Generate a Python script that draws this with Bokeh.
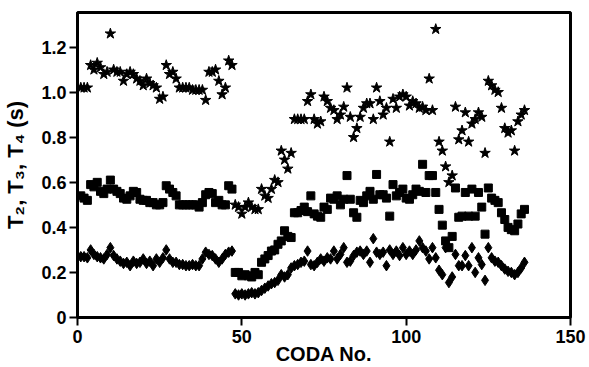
from bokeh.plotting import figure
from bokeh.models import Range1d, FixedTicker
from bokeh.embed import file_html
from bokeh.resources import INLINE

coda = list(range(1, 137))

t4_stars = [1.02, 1.02, 1.02, 1.12, 1.10, 1.13, 1.11, 1.08, 1.09, 1.26,
            1.10, 1.09, 1.09, 1.05, 1.08, 1.09, 1.08, 1.06, 1.05, 1.03,
            1.06, 1.04, 1.03, 1.02, 0.97, 0.98, 1.12, 1.08, 1.09, 1.06,
            1.02, 1.02, 1.02, 1.02, 1.01, 1.01, 1.01, 1.01, 0.965, 1.09,
            1.09, 1.10, 1.05, 0.99, 1.02, 1.14, 1.12, 0.50, 0.49, 0.46,
            0.49, 0.51, 0.49, 0.48, 0.48, 0.57, 0.54, 0.53, 0.57, 0.61,
            0.60, 0.74, 0.70, 0.66, 0.73, 0.88, 0.88, 0.88, 0.88, 0.96,
            0.99, 0.88, 0.86, 0.87, 0.98, 0.96, 0.93, 0.92, 0.88, 0.90,
            0.935, 1.02, 0.89, 0.80, 0.84, 0.89, 0.93, 0.95, 0.95, 0.88,
            1.02, 0.96, 0.90, 0.93, 0.78, 0.97, 0.93, 0.98, 0.99, 0.98,
            0.94, 0.96, 0.95, 0.93, 0.935, 0.92, 1.06, 0.92, 1.28, 0.78,
            0.74, 0.67, 0.60, 0.63, 0.935, 0.79, 0.83, 0.91, 0.78, 0.86,
            0.88, 0.91, 0.89, 0.73, 1.05, 1.03, 1.01, 1.00, 0.93, 0.84,
            0.82, 0.83, 0.74, 0.87, 0.90, 0.92]

t3_squares = [0.54, 0.53, 0.52, 0.59, 0.58, 0.60, 0.56, 0.55, 0.57, 0.61,
              0.57, 0.56, 0.55, 0.53, 0.525, 0.54, 0.56, 0.555, 0.525, 0.52,
              0.52, 0.51, 0.51, 0.50, 0.50, 0.51, 0.585, 0.57, 0.555, 0.54,
              0.50, 0.50, 0.50, 0.50, 0.50, 0.50, 0.49, 0.51, 0.545, 0.555,
              0.55, 0.51, 0.52, 0.50, 0.50, 0.585, 0.57, 0.20, 0.20, 0.185,
              0.19, 0.185, 0.18, 0.20, 0.19, 0.245, 0.26, 0.275, 0.295, 0.30,
              0.325, 0.34, 0.385, 0.36, 0.355, 0.465, 0.465, 0.475, 0.49, 0.47,
              0.54, 0.46, 0.45, 0.445, 0.49, 0.48, 0.53, 0.525, 0.54, 0.50,
              0.525, 0.63, 0.525, 0.465, 0.445, 0.52, 0.51, 0.54, 0.56, 0.525,
              0.635, 0.545, 0.545, 0.53, 0.45, 0.59, 0.54, 0.555, 0.57, 0.53,
              0.525, 0.545, 0.57, 0.56, 0.68, 0.555, 0.63, 0.63, 0.555, 0.48,
              0.41, 0.34, 0.31, 0.36, 0.575, 0.445, 0.45, 0.555, 0.45, 0.57,
              0.45, 0.555, 0.49, 0.37, 0.575, 0.53, 0.52, 0.51, 0.465, 0.435,
              0.40, 0.39, 0.385, 0.415, 0.46, 0.48]

t2_diamonds = [0.27, 0.27, 0.265, 0.30, 0.28, 0.27, 0.265, 0.26, 0.28, 0.31,
               0.275, 0.26, 0.25, 0.24, 0.245, 0.23, 0.25, 0.24, 0.245, 0.26,
               0.24, 0.25, 0.23, 0.26, 0.245, 0.265, 0.30, 0.26, 0.245, 0.245,
               0.235, 0.235, 0.23, 0.23, 0.235, 0.23, 0.23, 0.26, 0.29, 0.28,
               0.275, 0.26, 0.245, 0.26, 0.28, 0.29, 0.295, 0.105, 0.10, 0.105,
               0.10, 0.105, 0.11, 0.105, 0.11, 0.12, 0.13, 0.14, 0.15, 0.155,
               0.165, 0.19, 0.18, 0.19, 0.22, 0.23, 0.235, 0.245, 0.25, 0.295,
               0.235, 0.23, 0.245, 0.26, 0.25, 0.265, 0.26, 0.295, 0.26, 0.28,
               0.31, 0.245, 0.25, 0.275, 0.29, 0.295, 0.28, 0.295, 0.245, 0.35,
               0.29, 0.28, 0.29, 0.23, 0.30, 0.28, 0.295, 0.275, 0.31, 0.28,
               0.295, 0.28, 0.30, 0.34, 0.31, 0.295, 0.26, 0.31, 0.265, 0.21,
               0.19, 0.31, 0.155, 0.18, 0.28, 0.23, 0.23, 0.275, 0.23, 0.31,
               0.20, 0.265, 0.235, 0.165, 0.31, 0.265, 0.25, 0.245, 0.23, 0.215,
               0.205, 0.20, 0.19, 0.20, 0.22, 0.245]

x_ticks = [0, 50, 100, 150]
y_ticks = [0, 0.2, 0.4, 0.6, 0.8, 1.0, 1.2]
y_tick_labels = ["0", "0.2", "0.4", "0.6", "0.8", "1.0", "1.2"]
x_title = "CODA No."
y_title = "T\u2082, T\u2083, T\u2084 (s)"

FONT = "Liberation Sans"

p = figure(width=589, height=367, output_backend="svg", toolbar_location=None,
           x_range=Range1d(0, 150), y_range=Range1d(0, 1.354),
           min_border_left=77, min_border_right=19, min_border_top=12,
           min_border_bottom=50)
p.grid.visible = False
p.outline_line_color = "black"
p.outline_line_width = 3
p.background_fill_color = "white"
p.border_fill_color = "white"

p.scatter(coda, t4_stars, marker="star", size=11, fill_color="black", line_color="black")
p.scatter(coda, t3_squares, marker="square", size=8, fill_color="black", line_color="black")
p.scatter(coda, t2_diamonds, marker="diamond", size=10.5, fill_color="black", line_color="black")

for ax in (p.xaxis[0], p.yaxis[0]):
    ax.axis_line_width = 3
    ax.axis_line_color = "black"
    ax.major_tick_line_width = 2
    ax.major_tick_line_color = "black"
    ax.major_tick_out = 8
    ax.major_tick_in = 0
    ax.minor_tick_out = 0
    ax.minor_tick_in = 0
    ax.major_label_text_font = FONT
    ax.major_label_text_font_style = "bold"
    ax.major_label_text_font_size = "18px"
    ax.major_label_text_color = "black"
    ax.axis_label_text_font = FONT
    ax.axis_label_text_font_style = "bold"
    ax.axis_label_text_color = "black"

p.xaxis.ticker = FixedTicker(ticks=x_ticks)
p.yaxis.ticker = FixedTicker(ticks=y_ticks)
p.yaxis.major_label_overrides = {t: l for t, l in zip(y_ticks, y_tick_labels)}
p.xaxis.major_label_standoff = 4
p.yaxis.major_label_standoff = 3

p.yaxis.axis_label = y_title
p.yaxis.axis_label_text_font_size = "22px"
p.yaxis.axis_label_standoff = 10

p.xaxis.axis_label = x_title
p.xaxis.axis_label_text_font_size = "20px"
p.xaxis.axis_label_standoff = -3

open("out.html", "w").write(file_html(p, INLINE))
